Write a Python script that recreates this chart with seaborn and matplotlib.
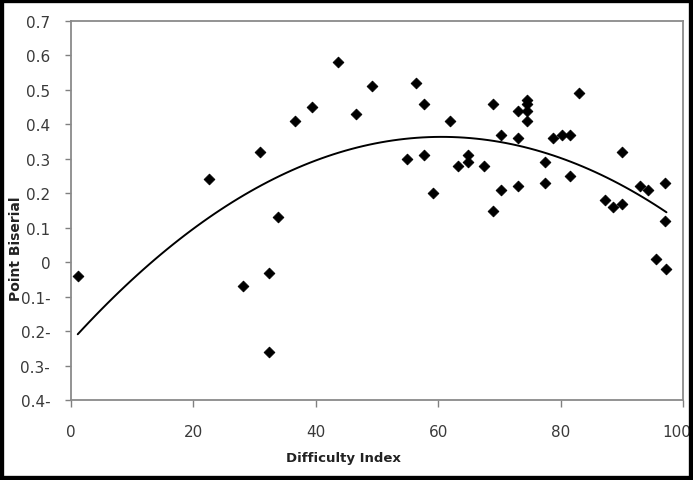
import matplotlib
matplotlib.use("Agg")
import matplotlib.pyplot as plt
import matplotlib.transforms as mtransforms
import seaborn as sns
import numpy as np
import pandas as pd
from matplotlib.patches import Rectangle

difficulty = [1.1, 22.5, 28.1, 30.9, 32.4, 32.4, 33.8, 36.6, 39.4, 43.6, 46.6, 49.2,
              56.3, 57.7, 62.0, 54.9, 57.7, 59.1, 64.8, 64.8, 63.3, 67.5, 68.9, 68.9,
              70.3, 70.3, 73.1, 73.1, 73.1, 74.5, 74.5, 74.5, 74.5, 77.5, 77.5, 78.8,
              80.2, 81.5, 81.5, 83.0, 87.2, 88.6, 90.1, 90.1, 92.9, 94.3, 97.1, 97.1,
              95.6, 97.3]
biserial = [-0.04, 0.24, -0.07, 0.32, -0.03, -0.26, 0.13, 0.41, 0.45, 0.58, 0.43, 0.51,
            0.52, 0.46, 0.41, 0.30, 0.31, 0.20, 0.31, 0.29, 0.28, 0.28, 0.46, 0.15,
            0.37, 0.21, 0.44, 0.36, 0.22, 0.47, 0.46, 0.44, 0.41, 0.29, 0.23, 0.36,
            0.37, 0.37, 0.25, 0.49, 0.18, 0.16, 0.32, 0.17, 0.22, 0.21, 0.23, 0.12,
            0.01, -0.02]

y_ticks = [0.7, 0.6, 0.5, 0.4, 0.3, 0.2, 0.1, 0.0, -0.1, -0.2, -0.3, -0.4]
y_tick_labels = ["0.7", "0.6", "0.5", "0.4", "0.3", "0.2", "0.1", "0",
                 "0.1-", "0.2-", "0.3-", "0.4-"]
x_ticks = [0, 20, 40, 60, 80, 100]
x_tick_labels = ["0", "20", "40", "60", "80", "100"]

df = pd.DataFrame({"Difficulty Index": difficulty, "Point Biserial": biserial})

sns.set_theme(style="white")
plt.rcParams["font.family"] = ["DejaVu Sans"]

fig = plt.figure(figsize=(6.93, 4.81), dpi=100)
ax = fig.add_axes([71 / 693, 1 - 401 / 481, (683 - 71) / 693, (401 - 22) / 481])

sns.regplot(data=df, x="Difficulty Index", y="Point Biserial", order=2, ci=None,
            truncate=True, ax=ax, marker="D",
            scatter_kws=dict(s=30, color="black", edgecolor="black", linewidths=0.6,
                             alpha=1.0),
            line_kws=dict(color="black", linewidth=1.4))

ax.set_xlim(0, 100)
ax.set_ylim(-0.4, 0.7)
ax.set_yticks(y_ticks)
ax.set_yticklabels(y_tick_labels)
ax.set_xticks(x_ticks)
ax.set_xticklabels(x_tick_labels)
ax.tick_params(axis="y", direction="out", length=4, width=1, color="#808080",
               labelsize=11, labelcolor="#3a3a3a", pad=11, left=True)
ax.tick_params(axis="x", direction="out", length=5, width=1, color="#808080",
               labelsize=11, labelcolor="#3a3a3a", pad=12, bottom=True)
for sp in ax.spines.values():
    sp.set_color("#8a8a8a")
    sp.set_linewidth(1.3)

# keep the last x label inside the frame
last = ax.get_xticklabels()[-1]
last.set_transform(last.get_transform() +
                   mtransforms.ScaledTranslation(-6 / 100, 0, fig.dpi_scale_trans))

ax.set_xlabel("")
ax.set_ylabel("")
fig.text(343 / 693, 1 - 459 / 481, "Difficulty Index", fontsize=9.5,
         fontweight="bold", color="#222222", ha="center", va="center")
fig.text(16 / 693, 1 - 249 / 481, "Point Biserial", rotation=90, fontsize=10,
         fontweight="bold", color="#222222", ha="center", va="center")

fig.patches.append(Rectangle((0, 0), 1, 1, transform=fig.transFigure, fill=False,
                             edgecolor="black", linewidth=6, zorder=10))

fig.savefig("out.png", dpi=100)
